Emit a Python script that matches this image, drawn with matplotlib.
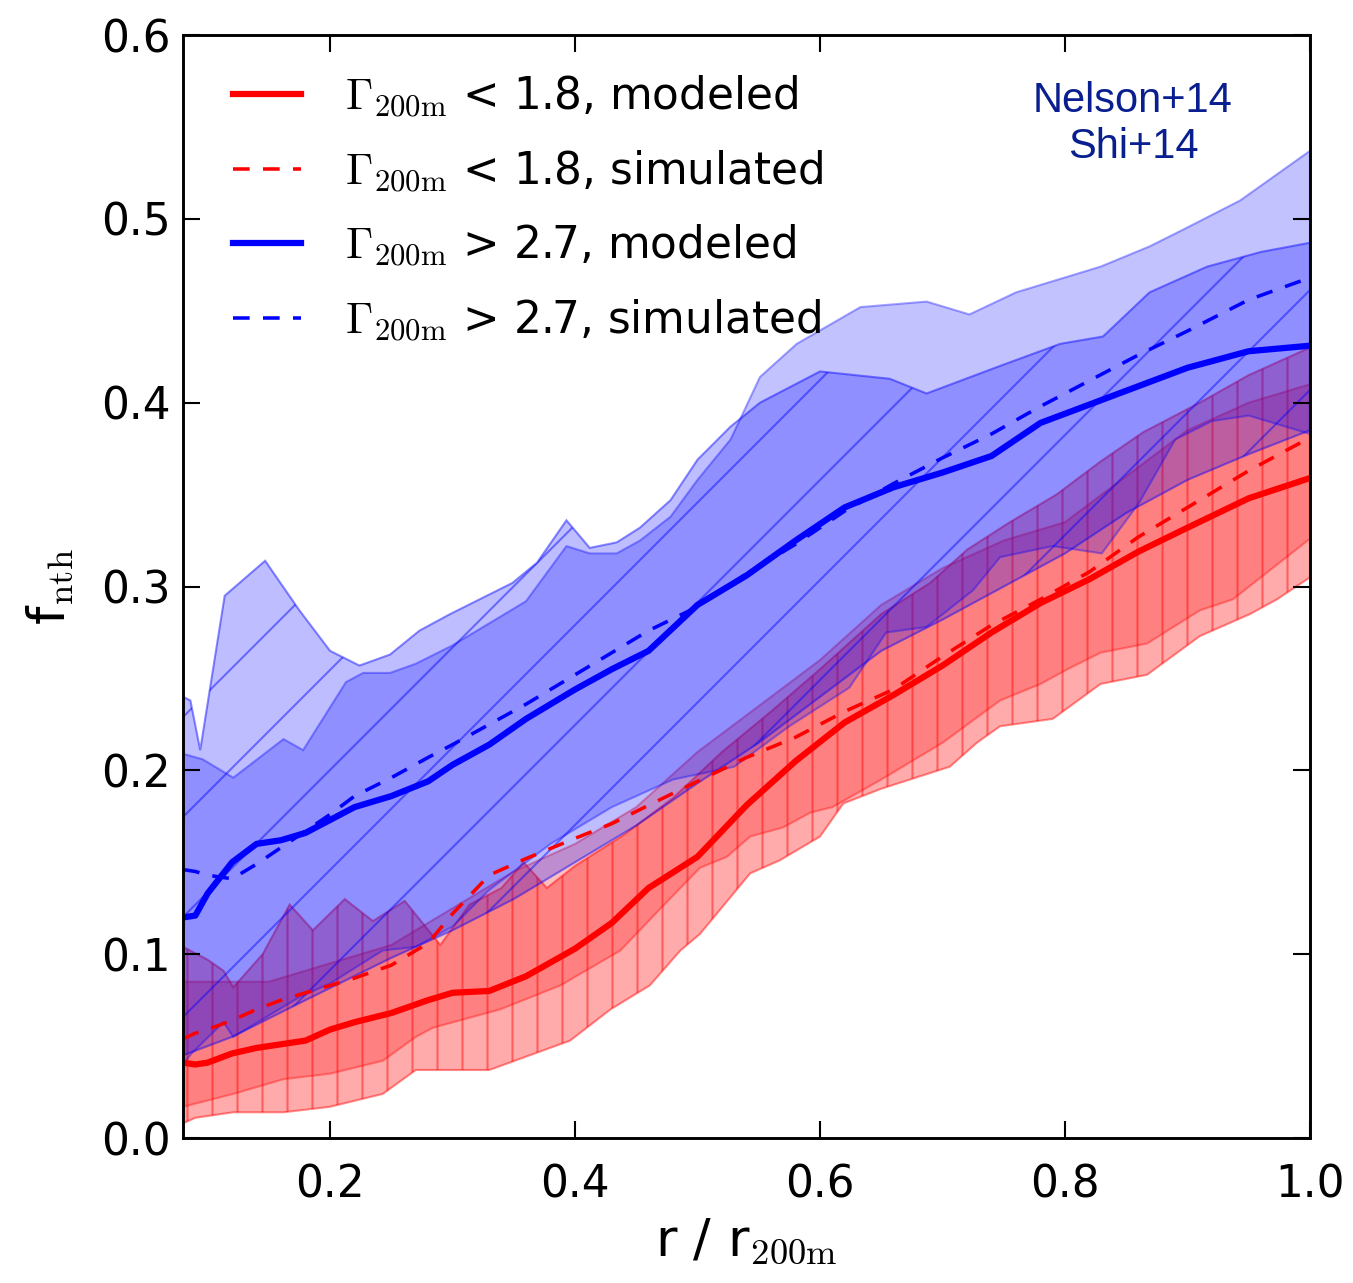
import numpy as np
import matplotlib
matplotlib.use("Agg")
import matplotlib.pyplot as plt

plt.rcParams["mathtext.fontset"] = "cm"
plt.rcParams["hatch.linewidth"] = 0.5
plt.rcParams["lines.scale_dashes"] = False

# median profiles
r_line = [0.08, 0.09, 0.10, 0.12, 0.14, 0.16, 0.18, 0.20, 0.22, 0.25, 0.28, 0.30, 0.33, 0.36, 0.40,
          0.43, 0.46, 0.50, 0.54, 0.58, 0.62, 0.66, 0.70, 0.74, 0.78, 0.82, 0.86, 0.90, 0.95, 1.00]
red_model = [0.041, 0.040, 0.041, 0.046, 0.049, 0.051, 0.053, 0.059, 0.063, 0.068, 0.075, 0.079, 0.080,
             0.088, 0.103, 0.117, 0.136, 0.153, 0.181, 0.205, 0.226, 0.241, 0.257, 0.275, 0.291, 0.304,
             0.319, 0.332, 0.348, 0.359]
red_sim = [0.054, 0.057, 0.059, 0.064, 0.070, 0.075, 0.079, 0.083, 0.087, 0.094, 0.106, 0.122, 0.143,
           0.152, 0.163, 0.171, 0.181, 0.194, 0.207, 0.218, 0.232, 0.244, 0.262, 0.279, 0.293, 0.308,
           0.327, 0.343, 0.363, 0.381]
blue_model = [0.120, 0.121, 0.133, 0.150, 0.160, 0.162, 0.166, 0.173, 0.180, 0.186, 0.194, 0.203, 0.214,
              0.228, 0.244, 0.255, 0.265, 0.290, 0.306, 0.325, 0.343, 0.354, 0.362, 0.371, 0.389, 0.399,
              0.409, 0.419, 0.428, 0.431]
blue_sim = [0.146, 0.145, 0.143, 0.141, 0.149, 0.158, 0.167, 0.176, 0.186, 0.196, 0.207, 0.214, 0.225,
            0.236, 0.252, 0.264, 0.276, 0.289, 0.307, 0.323, 0.341, 0.356, 0.370, 0.383, 0.398, 0.412,
            0.426, 0.439, 0.456, 0.468]

# scatter bands: red, modeled (hatched)
red_mod_up_r = [0.08, 0.10, 0.113, 0.121, 0.145, 0.167, 0.186, 0.212, 0.235, 0.261, 0.29, 0.314, 0.34,
                0.358, 0.377, 0.40, 0.44, 0.48, 0.52, 0.56, 0.60, 0.65, 0.69, 0.72, 0.755, 0.793, 0.829,
                0.864, 0.91, 0.95, 1.0]
red_mod_up = [0.104, 0.097, 0.091, 0.082, 0.100, 0.127, 0.113, 0.130, 0.118, 0.129, 0.105, 0.127, 0.136,
              0.150, 0.136, 0.148, 0.165, 0.185, 0.210, 0.232, 0.255, 0.285, 0.302, 0.320, 0.335, 0.350,
              0.368, 0.384, 0.400, 0.415, 0.430]
red_mod_lo_r = [0.08, 0.09, 0.121, 0.162, 0.2, 0.243, 0.27, 0.298, 0.33, 0.363, 0.396, 0.429, 0.461,
                0.486, 0.502, 0.543, 0.567, 0.6, 0.619, 0.65, 0.706, 0.728, 0.747, 0.79, 0.829, 0.867,
                0.91, 0.951, 0.973, 1.0]
red_mod_lo = [0.008, 0.011, 0.014, 0.014, 0.017, 0.024, 0.037, 0.037, 0.037, 0.045, 0.053, 0.070, 0.083,
              0.102, 0.111, 0.144, 0.151, 0.164, 0.182, 0.190, 0.202, 0.215, 0.224, 0.228, 0.247, 0.252,
              0.273, 0.285, 0.293, 0.305]

# red, simulated
red_sim_up_r = [0.08, 0.15, 0.20, 0.25, 0.30, 0.35, 0.40, 0.45, 0.50, 0.55, 0.60, 0.65, 0.70, 0.75,
                0.80, 0.85, 0.90, 0.95, 1.0]
red_sim_up = [0.085, 0.085, 0.095, 0.105, 0.125, 0.145, 0.160, 0.180, 0.210, 0.235, 0.260, 0.290, 0.310,
              0.325, 0.335, 0.360, 0.385, 0.400, 0.410]
red_sim_lo_r = [0.08, 0.121, 0.162, 0.2, 0.243, 0.27, 0.284, 0.339, 0.388, 0.437, 0.47, 0.502, 0.524,
                0.543, 0.57, 0.592, 0.61, 0.65, 0.70, 0.747, 0.78, 0.802, 0.829, 0.867, 0.91, 0.937, 1.0]
red_sim_lo = [0.017, 0.024, 0.032, 0.035, 0.042, 0.055, 0.060, 0.070, 0.083, 0.102, 0.125, 0.147, 0.153,
              0.164, 0.169, 0.177, 0.180, 0.195, 0.215, 0.238, 0.247, 0.255, 0.264, 0.269, 0.287, 0.293,
              0.326]

# blue, modeled (hatched)
blue_mod_up_r = [0.08, 0.086, 0.094, 0.114, 0.147, 0.175, 0.20, 0.224, 0.249, 0.273, 0.298, 0.322, 0.349,
                 0.369, 0.393, 0.412, 0.434, 0.453, 0.478, 0.50, 0.527, 0.551, 0.60, 0.657, 0.687, 0.747,
                 0.796, 0.831, 0.869, 0.916, 0.96, 1.0]
blue_mod_up = [0.240, 0.238, 0.211, 0.295, 0.314, 0.287, 0.265, 0.257, 0.263, 0.276, 0.285, 0.293, 0.302,
               0.313, 0.336, 0.321, 0.324, 0.332, 0.347, 0.369, 0.387, 0.400, 0.417, 0.413, 0.405, 0.420,
               0.432, 0.436, 0.460, 0.474, 0.482, 0.487]
blue_mod_lo_r = [0.08, 0.12, 0.18, 0.25, 0.30, 0.35, 0.40, 0.45, 0.50, 0.55, 0.60, 0.65, 0.70, 0.75,
                 0.80, 0.85, 0.90, 0.95, 1.0]
blue_mod_lo = [0.045, 0.055, 0.075, 0.098, 0.113, 0.130, 0.150, 0.170, 0.193, 0.215, 0.240, 0.265, 0.282,
               0.300, 0.318, 0.340, 0.358, 0.372, 0.385]

# blue, simulated
blue_sim_up_r = [0.08, 0.096, 0.121, 0.162, 0.178, 0.213, 0.227, 0.249, 0.27, 0.30, 0.33, 0.36, 0.393,
                 0.412, 0.434, 0.453, 0.478, 0.50, 0.527, 0.551, 0.581, 0.633, 0.687, 0.722, 0.76, 0.829,
                 0.869, 0.896, 0.943, 1.0]
blue_sim_up = [0.209, 0.206, 0.196, 0.217, 0.211, 0.248, 0.253, 0.253, 0.258, 0.268, 0.280, 0.292, 0.322,
               0.318, 0.318, 0.325, 0.338, 0.358, 0.380, 0.414, 0.432, 0.452, 0.455, 0.448, 0.460, 0.474,
               0.485, 0.494, 0.510, 0.537]
blue_sim_lo_r = [0.08, 0.087, 0.113, 0.121, 0.176, 0.2, 0.243, 0.27, 0.30, 0.33, 0.38, 0.43, 0.48, 0.53,
                 0.575, 0.624, 0.654, 0.687, 0.725, 0.747, 0.79, 0.83, 0.86, 0.89, 0.92, 0.95, 1.0]
blue_sim_lo = [0.040, 0.046, 0.063, 0.055, 0.077, 0.084, 0.102, 0.104, 0.115, 0.135, 0.160, 0.180, 0.195,
               0.202, 0.224, 0.245, 0.275, 0.278, 0.298, 0.316, 0.322, 0.318, 0.345, 0.380, 0.390, 0.393,
               0.383]


def band(ax, xu, yu, xl, yl, rgb, face_alpha, edge_alpha, hatch=None):
  xs = np.r_[xu, xl[::-1]]
  ys = np.r_[yu, yl[::-1]]
  ax.fill(xs, ys, facecolor=(*rgb, face_alpha), edgecolor=(*rgb, edge_alpha),
          hatch=hatch, linewidth=0.5)


RED = (1.0, 0.0, 0.0)
BLUE = (0.0, 0.0, 1.0)

fig = plt.figure(figsize=(1353 / 300, 1283 / 300), dpi=300)
ax = fig.add_axes([0.1353, 0.113, 0.8329, 0.8597])

band(ax, red_sim_up_r, red_sim_up, red_sim_lo_r, red_sim_lo, RED, 0.25, 0.35)
band(ax, red_mod_up_r, red_mod_up, red_mod_lo_r, red_mod_lo, RED, 0.33, 0.45, hatch="||")
band(ax, blue_sim_up_r, blue_sim_up, blue_sim_lo_r, blue_sim_lo, BLUE, 0.24, 0.35)
band(ax, blue_mod_up_r, blue_mod_up, blue_mod_lo_r, blue_mod_lo, BLUE, 0.26, 0.45, hatch="/")

ax.plot(r_line, red_model, color="r", lw=1.5, label=r"$\Gamma_{\rm 200m}$ < 1.8, modeled")
ax.plot(r_line, red_sim, color="r", lw=0.85, dashes=(4, 3.2), label=r"$\Gamma_{\rm 200m}$ < 1.8, simulated")
ax.plot(r_line, blue_model, color="b", lw=1.5, label=r"$\Gamma_{\rm 200m}$ > 2.7, modeled")
ax.plot(r_line, blue_sim, color="b", lw=0.85, dashes=(4, 3.2), label=r"$\Gamma_{\rm 200m}$ > 2.7, simulated")

ax.set_xlim(0.08, 1.0)
ax.set_ylim(0.0, 0.6)
ax.set_xticks([0.2, 0.4, 0.6, 0.8, 1.0])
ax.set_yticks([0.0, 0.1, 0.2, 0.3, 0.4, 0.5, 0.6])
ax.tick_params(direction="in", top=True, right=True, length=4, width=0.5, labelsize=10.5)
ax.tick_params(axis="x", pad=6)
ax.tick_params(axis="y", pad=3)
for s in ax.spines.values():
  s.set_linewidth(0.7)

ax.set_xlabel(r"r / r$_{\rm 200m}$", fontsize=12.5, labelpad=2.5)
ax.set_ylabel(r"f$_{\rm nth}$", fontsize=12.5, labelpad=6)

ax.text(0.843, 0.919, "Nelson+14\nShi+14", transform=ax.transAxes, ha="center", va="center",
        color="#0a1f8f", fontsize=10, family="Liberation Sans", linespacing=1.2)

ax.legend(loc="upper left", bbox_to_anchor=(0.029, 0.981), borderaxespad=0, frameon=False,
          fontsize=10.5, handlelength=1.55, handletextpad=1.0, labelspacing=0.66)

fig.savefig("out.png", dpi=300)
